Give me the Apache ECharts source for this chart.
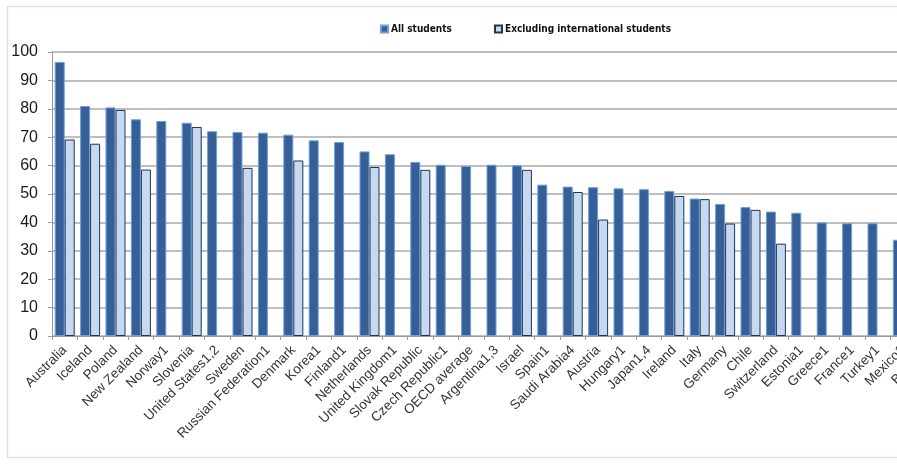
<!DOCTYPE html>
<html>
<head>
<meta charset="utf-8">
<script src="https://cdn.jsdelivr.net/npm/echarts@6/dist/echarts.min.js"></script>
<style>
  html, body { margin: 0; padding: 0; background: #fff; overflow: hidden; width: 897px; height: 468px; }
  #chart { width: 960px; height: 468px; }
</style>
</head>
<body>
<div id="chart"></div>
<script>
const categories = ["Australia","Iceland","Poland","New Zealand","Norway1","Slovenia","United States1,2","Sweden","Russian Federation1","Denmark","Korea1","Finland1","Netherlands","United Kingdom1","Slovak Republic","Czech Republic1","OECD average","Argentina1,3","Israel","Spain1","Saudi Arabia4","Austria","Hungary1","Japan1,4","Ireland","Italy","Germany","Chile","Switzerland","Estonia1","Greece1","France1","Turkey1","Mexico1","Belgium"];
const allStudents = [96.5,81,80.5,76.3,75.7,75.1,72.1,71.8,71.6,70.9,68.9,68.3,65,64,61.3,60.3,59.9,60.3,60.1,53.3,52.6,52.4,52,51.7,51.1,48.4,46.5,45.4,43.8,43.4,40,39.7,39.7,33.9,null];
const excludingIntl = [69.2,67.7,79.6,58.6,null,73.6,null,59.2,null,61.8,null,null,59.5,null,58.5,null,null,null,58.5,null,50.7,41,null,null,49.3,48.2,39.6,44.4,32.5,null,null,null,null,null,null];
const yTicks = [0,10,20,30,40,50,60,70,80,90,100];

const chart = echarts.init(document.getElementById('chart'), null, {renderer: 'canvas'});
const legendFont = "'Liberation Sans Narrow', 'DejaVu Sans Condensed', sans-serif";
chart.setOption({
  animation: false,
  backgroundColor: '#ffffff',
  graphic: [{
    type: 'rect', silent: true,
    shape: {x: 7.5, y: 6.5, width: 1000, height: 451},
    style: {fill: 'none', stroke: '#d6e2f1', lineWidth: 1.5}
  }],
  legend: [{
    data: ['All students'], left: 375, top: 19,
    itemWidth: 7, itemHeight: 7, icon: 'rect', itemGap: 4,
    textStyle: {fontFamily: legendFont, fontSize: 10, fontWeight: 'bold', color: '#111', padding: [0,0,0,-2]}
  },{
    data: ['Excluding international students'], left: 489, top: 19,
    itemWidth: 7, itemHeight: 7, icon: 'rect', itemGap: 4,
    textStyle: {fontFamily: legendFont, fontSize: 10, fontWeight: 'bold', color: '#111', padding: [0,0,0,-2]}
  }],
  grid: {left: 52, top: 52, width: 889, height: 284, containLabel: false},
  xAxis: {
    type: 'category', data: categories, boundaryGap: true,
    axisLine: {lineStyle: {color: '#9a9a9a', width: 1}},
    axisTick: {show: true, length: 4, lineStyle: {color: '#9a9a9a'}},
    axisLabel: {interval: 0, rotate: 45, margin: 12, fontFamily: "'Liberation Sans', Arial, sans-serif", fontSize: 13.5, color: '#333'}
  },
  yAxis: {
    type: 'value', min: 0, max: 100, interval: 10,
    axisLine: {show: true, lineStyle: {color: '#9a9a9a', width: 1}},
    axisTick: {show: true, length: 4, lineStyle: {color: '#9a9a9a'}},
    splitLine: {lineStyle: {color: '#a8a8a8', width: 1.5}},
    axisLabel: {margin: 14, fontFamily: "'Liberation Sans', Arial, sans-serif", fontSize: 16, color: '#1a1a1a',
      formatter: v => yTicks.includes(v) ? String(v) : ''}
  },
  series: [{
    name: 'All students', type: 'bar', data: allStudents,
    barWidth: 10, barGap: '0%',
    itemStyle: {color: '#365f97', borderColor: '#6e9fdc', borderWidth: 1}
  },{
    name: 'Excluding international students', type: 'bar', data: excludingIntl,
    barWidth: 10, barGap: '0%',
    itemStyle: {color: '#c6d9f0', borderColor: '#22344f', borderWidth: 1}
  }]
});
</script>
</body>
</html>
